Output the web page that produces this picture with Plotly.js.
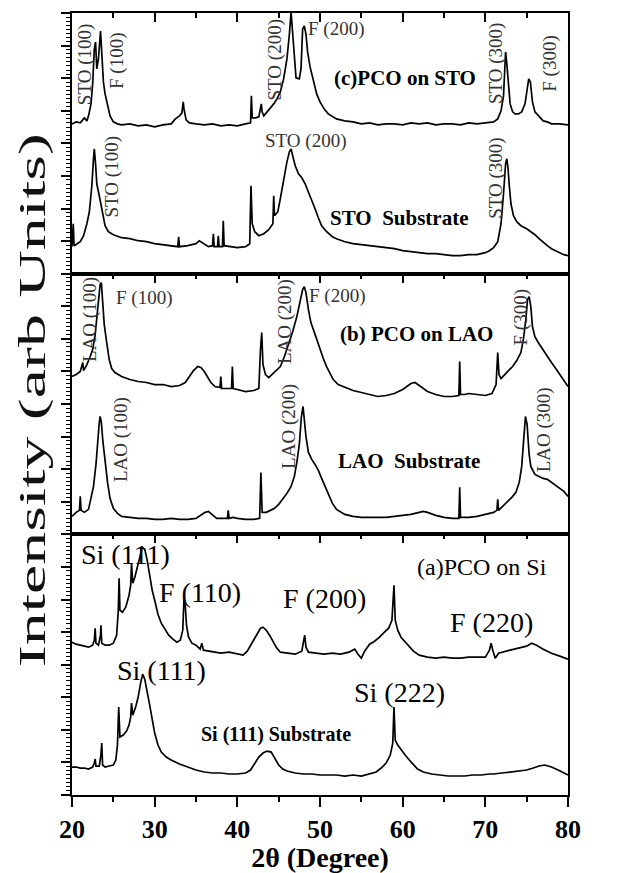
<!DOCTYPE html>
<html>
<head>
<meta charset="utf-8">
<script src="https://cdn.plot.ly/plotly-3.0.1.min.js"></script>
<style>html,body{margin:0;padding:0;background:#fff;}#chart{width:635px;height:873px;}</style>
</head>
<body>
<div id="chart"></div>
<script>
// ---------- Panel (c): PCO on STO / STO substrate ----------
var cFilmX = [20,20.5,21,21.5,21.8,22.0,22.3,22.5,22.7,22.85,23.0,23.2,23.45,23.6,23.8,24.0,24.3,24.6,25.0,25.5,26,27,28,29,30,31,32,32.5,33,33.3,33.45,33.55,33.8,34.2,35,36,37,38,39,40,41,41.6,41.7,41.8,42.2,42.6,42.9,43.0,43.2,43.6,44.0,44.4,44.8,45.2,45.6,46.0,46.3,46.5,46.7,46.9,47.1,47.5,47.7,47.9,48.1,48.3,48.5,48.8,49.2,49.6,50.0,50.5,51,52,53,54,55,56,57,58,59,60,61,62,63,64,65,66,67,68,69,70,70.5,71,71.5,71.9,72.2,72.45,72.6,72.8,73.0,73.3,73.6,74.0,74.4,74.8,75.0,75.25,75.45,75.7,76.0,76.5,77,77.5,78,79,80];
var cFilmY = [150,152,151,156,153,158,170,190,225,232,205,215,243,225,192,180,170,158,152,150,149,150,148,149,147,149,150,155,158,161,172,165,154,151,150,149,150,148,149,148,150,151,178,156,156,157,170,162,158,162,165,170,175,182,195,215,240,262,240,215,196,195,205,245,248,240,222,207,192,180,172,165,160,155,153,152,150,151,149,150,150,149,151,150,151,149,150,150,149,151,150,151,152,152,155,163,178,222,210,190,170,162,160,160,162,170,182,195,192,172,162,157,153,152,150,150,149];
var cSubX = [20,20.15,20.25,20.6,21.0,21.4,21.8,22.1,22.4,22.6,22.7,22.85,23.0,23.3,23.7,24.0,24.4,25,26,27,28,29,30,31,32,32.8,32.9,33.0,34,35,35.4,35.9,36.5,37.0,37.1,37.2,37.6,37.7,37.8,38.2,38.3,38.4,39,40,41,41.5,41.65,41.8,42.1,42.6,43.2,43.8,44.3,44.4,44.5,44.9,45.2,45.6,46.0,46.3,46.5,46.7,47.0,47.4,47.8,48.2,48.6,49.0,49.4,49.8,50.2,50.8,51.5,52,53,54,55,56,57,58,59,60,61,62,63,64,65,66,67,68,69,70,70.5,71,71.5,71.9,72.2,72.45,72.6,72.75,72.9,73.1,73.4,73.8,74.3,75,75.5,76,76.5,77,77.5,78,78.5,79,79.5,80];
var cSubY = [27,50,28,30,32,38,50,62,88,115,125,110,90,78,60,48,42,39,36,35,33,32,30,29,28,27,37,27,28,30,33,30,27,28,40,27,27,38,27,27,53,28,27,26,27,30,88,50,42,38,40,44,50,78,58,62,75,95,112,122,125,118,108,100,96,90,82,74,65,56,48,42,37,35,32,30,29,28,27,26,25,23,22,21,20,20,19,18,18,19,19,21,23,26,32,50,80,110,115,105,88,70,58,52,48,45,42,39,35,31,28,25,23,21,19,18];

// ---------- Panel (b): PCO on LAO / LAO substrate ----------
var bFilmX = [20,20.5,21.0,21.3,21.4,21.8,22.2,22.5,22.8,23.0,23.2,23.4,23.55,23.7,23.9,24.2,24.5,24.8,25.2,26,27,28,29,30,31,32,33,33.7,34.2,34.7,35.2,35.6,36.0,36.4,36.8,37.3,37.9,38.0,38.1,38.8,39.3,39.4,39.5,40,41,42,42.6,42.8,42.95,43.1,43.4,43.8,44.2,44.7,45.2,45.7,46.2,46.7,47.2,47.6,47.9,48.1,48.3,48.6,48.9,49.2,49.6,50.0,50.4,50.8,51.2,51.6,52.2,53,54,55,56,57,58,59,60,60.5,61,61.5,62,62.5,63,64,65,66,66.8,66.9,67.0,67.5,68,69,70,70.8,71.3,71.5,71.65,71.9,72.3,72.8,73.3,73.8,74.3,74.6,74.9,75.1,75.3,75.5,75.7,76.0,76.4,77.0,77.5,78.0,78.6,79.2,79.7,80];
var bFilmY = [158,160,163,172,164,170,178,185,200,215,235,250,252,230,210,192,175,166,162,158,155,153,152,150,150,148,149,152,158,164,168,167,163,158,152,148,147,158,146,146,146,168,146,145,143,144,146,185,202,170,160,157,160,164,168,178,190,203,218,232,245,248,242,225,212,205,195,185,176,168,161,155,150,147,144,142,140,138,139,141,145,148,151,152,149,146,143,140,138,138,139,173,140,140,141,140,139,141,150,182,160,156,160,164,168,174,182,195,215,235,238,228,208,198,192,184,178,172,165,158,152,148];
var bSubX = [20,20.5,20.9,21.0,21.1,21.5,22.0,22.3,22.6,22.9,23.1,23.3,23.4,23.55,23.75,24.0,24.3,24.6,25.0,25.5,26,27,28,29,30,31,32,33,34,35,35.6,36.1,36.5,37,37.5,38,38.8,38.9,39.0,39.5,40,41,42,42.7,42.85,43.0,43.5,44.0,44.5,45.0,45.5,46.0,46.5,46.9,47.2,47.5,47.75,47.95,48.1,48.3,48.6,49.0,49.4,49.8,50.2,50.6,51.0,51.5,52,53,54,55,56,57,58,59,60,61,62,62.5,63,64,65,66,66.8,66.9,67.0,68,69,70,71,71.4,71.5,71.6,72,72.6,73.2,73.7,74.1,74.4,74.65,74.85,75.05,75.3,75.5,76,76.5,77,77.5,78,78.5,79,79.5,80];
var bSubY = [18,22,24,38,24,22,25,35,48,70,95,112,118,112,92,72,52,36,26,21,18,17,16,16,15,15,16,15,15,16,19,22,23,19,16,16,16,24,16,17,16,15,15,16,62,22,22,24,26,30,35,41,48,58,72,90,118,128,115,98,82,75,70,64,56,48,40,31,25,20,18,17,17,17,17,18,19,20,22,23,22,19,17,16,16,47,17,17,18,20,22,24,35,24,27,32,37,42,52,68,95,118,110,80,68,60,58,56,55,52,49,46,43,38];

// ---------- Panel (a): PCO on Si / Si(111) substrate ----------
var aFilmX = [20,20.5,21.0,21.5,22.0,22.5,22.7,22.8,22.9,23.2,23.45,23.5,23.6,24.0,24.5,25.0,25.4,25.6,25.7,25.8,26.1,26.5,26.9,27.1,27.2,27.35,27.6,27.9,28.2,28.5,28.8,29.1,29.4,29.7,30.0,30.4,30.8,31.2,31.7,32.2,32.7,33.1,33.4,33.55,33.7,33.85,34.1,34.5,35.0,35.5,35.7,35.9,36.5,37,38,39,40,40.7,41.2,41.6,42.0,42.4,42.8,43.1,43.5,43.9,44.3,44.7,45.2,46,47,47.8,48.0,48.15,48.3,48.6,49.5,50.5,51.5,52.5,53.5,54.2,54.6,55.0,55.4,56.0,56.6,57.2,57.8,58.3,58.7,58.85,58.95,59.1,59.4,59.8,60.3,60.8,61.3,62,63,64,65,66,67,68,69,70,70.5,70.7,70.9,71.2,71.6,72.2,73,74,75,75.6,76.2,77,78,79,80];
var aFilmY = [153,151,150,149,148,150,155,167,152,150,160,170,152,150,150,152,160,185,217,185,183,188,200,210,232,212,218,228,238,248,246,235,220,205,195,181,172,166,160,156,153,155,165,197,190,170,158,152,150,146,152,145,144,143,142,143,141,140,144,150,156,162,167,168,165,160,154,148,143,142,141,144,152,160,148,143,142,141,142,141,143,146,141,137,144,151,154,158,163,167,175,200,210,175,165,158,153,148,144,140,138,137,138,137,137,138,138,138,145,152,145,137,142,143,145,147,149,152,150,146,142,139,136];
var aSubX = [20,20.5,21,21.5,22,22.5,22.7,22.8,22.9,23.3,23.5,23.6,23.7,24.0,24.5,25.0,25.3,25.5,25.65,25.8,26.2,26.6,26.9,27.1,27.2,27.35,27.7,28.0,28.3,28.55,28.8,29.1,29.4,29.7,30.0,30.4,30.8,31.4,32,33,34,35,36,37,38,39,40,41,41.6,42.1,42.6,43.1,43.6,44.1,44.6,45.0,45.5,46,47,48,49,50,51,52,53,54,55,56,56.8,57.4,58.0,58.5,58.8,58.95,59.1,59.4,59.8,60.3,60.8,61.3,61.8,62.5,63.5,64.5,65.5,66.5,67.5,68.5,69.5,70.5,71.0,72,73,74,75,75.8,76.5,77.2,78,78.8,79.5,80];
var aSubY = [28,28,27,27,26,28,32,36,29,29,40,52,30,28,29,30,35,50,88,58,60,64,70,78,92,80,88,98,112,121,116,104,90,76,62,50,43,38,35,31,28,25,23,22,22,21,21,22,25,31,38,42,44,43,36,30,26,24,22,21,21,20,20,20,19,20,19,21,23,27,32,40,52,88,55,50,45,40,35,30,26,23,21,20,19,19,19,20,20,21,21,22,23,24,25,27,29,30,28,25,22,20];

// ---------- Axis tick values ----------
var xTickVals = [20,30,40,50,60,70,80];
var xTickText = ['20','30','40','50','60','70','80'];

var SERIF = 'Liberation Serif, Times New Roman, serif';
function tr(x, y, xa, ya) {
  return {x: x, y: y, xaxis: xa, yaxis: ya, type: 'scatter', mode: 'lines',
          line: {color: '#000', width: 1.7}, hoverinfo: 'skip', showlegend: false};
}
var data = [
  tr(cFilmX, cFilmY, 'x3', 'y3'), tr(cSubX, cSubY, 'x3', 'y3'),
  tr(bFilmX, bFilmY, 'x2', 'y2'), tr(bSubX, bSubY, 'x2', 'y2'),
  tr(aFilmX, aFilmY, 'x', 'y'), tr(aSubX, aSubY, 'x', 'y'),
  {x: [], y: [], xaxis: 'x4', yaxis: 'y', type: 'scatter', mode: 'lines', showlegend: false}
];

var H = 261;
var yBase = {range: [0, H], showticklabels: false, showgrid: false, zeroline: false,
  ticks: 'outside', ticklen: 9, tickwidth: 2, tickcolor: '#000', tick0: 0, dtick: H / 8,
  minor: {ticks: 'outside', ticklen: 4, tickwidth: 1, tickcolor: '#000', dtick: H / 64},
  showline: true, linewidth: 2, linecolor: '#000', mirror: true, fixedrange: true};
function yax(dom) { var o = JSON.parse(JSON.stringify(yBase)); o.domain = dom; return o; }
function topX(anchor, overlay) {
  var o = {range: [20, 80], anchor: anchor, side: 'top', showticklabels: false, showgrid: false,
    zeroline: false, ticks: 'inside', ticklen: 9, tickwidth: 2, tickcolor: '#000',
    tickvals: xTickVals,
    minor: {ticks: 'inside', ticklen: 5, tickwidth: 2, tickcolor: '#000', dtick: 5, tick0: 20},
    showline: true, linewidth: 2, linecolor: '#000', mirror: true, fixedrange: true};
  if (overlay) o.overlaying = overlay;
  return o;
}

function lab(text, x, y, xr, yr, size, opts) {
  opts = opts || {};
  return {text: text, x: x, y: y, xref: xr, yref: yr, showarrow: false,
    xanchor: 'center', yanchor: 'middle', textangle: opts.rot ? -90 : 0,
    font: {family: SERIF, size: size, color: opts.color || '#1a1a1a', weight: opts.bold ? 'bold' : 'normal'}};
}
var R = {rot: true, color: '#333'};
var N = {color: '#333'};
var B = {bold: true, color: '#000'};
var annotations = [
  // panel c
  lab('STO (100)', 21.6, 209, 'x3', 'y3', 19, R),
  lab('F (100)', 25.45, 213, 'x3', 'y3', 19, R),
  lab('STO (200)', 44.5, 214, 'x3', 'y3', 19, R),
  lab('F (200)', 51.9, 245, 'x3', 'y3', 19, N),
  lab('(c)PCO on STO', 60.3, 196, 'x3', 'y3', 21, B),
  lab('STO (300)', 71.3, 210, 'x3', 'y3', 19, R),
  lab('F (300)', 77.8, 210, 'x3', 'y3', 19, R),
  lab('STO (200)', 48.2, 133, 'x3', 'y3', 19, N),
  lab('STO (100)', 24.8, 97, 'x3', 'y3', 19, R),
  lab('STO  Substrate', 59.5, 56, 'x3', 'y3', 21, B),
  lab('STO (300)', 71.3, 95, 'x3', 'y3', 19, R),
  // panel b
  lab('LAO (100)', 22.1, 215, 'x2', 'y2', 19, R),
  lab('F (100)', 28.7, 237, 'x2', 'y2', 19, N),
  lab('LAO (200)', 45.7, 213, 'x2', 'y2', 19, R),
  lab('F (200)', 52.1, 239, 'x2', 'y2', 19, N),
  lab('(b) PCO on LAO', 61.7, 201, 'x2', 'y2', 21, B),
  lab('F (300)', 74.3, 217, 'x2', 'y2', 19, R),
  lab('LAO (100)', 26.0, 95, 'x2', 'y2', 19, R),
  lab('LAO (200)', 46.3, 108, 'x2', 'y2', 19, R),
  lab('LAO  Substrate', 60.8, 73, 'x2', 'y2', 21, B),
  lab('LAO (300)', 77.2, 105, 'x2', 'y2', 19, R),
  // panel a
  lab('Si (111)', 26.5, 241, 'x', 'y', 28, {color: '#000'}),
  lab('F (110)', 35.5, 203, 'x', 'y', 28, {color: '#000'}),
  lab('F (200)', 50.6, 197, 'x', 'y', 28, {color: '#000'}),
  lab('(a)PCO on Si', 69.6, 228, 'x', 'y', 24, {color: '#000'}),
  lab('F (220)', 70.7, 173, 'x', 'y', 28, {color: '#000'}),
  lab('Si (111)', 30.8, 125, 'x', 'y', 28, {color: '#000'}),
  lab('Si (222)', 59.6, 103, 'x', 'y', 28, {color: '#000'}),
  lab('Si (111) Substrate', 44.7, 61, 'x', 'y', 20, B),
  // y-axis title
  {text: 'Intensity (arb Units)', x: -0.0786, y: 0.505, xref: 'paper', yref: 'paper',
   showarrow: false, textangle: -90, xanchor: 'center', yanchor: 'middle',
   font: {family: SERIF, size: 37, color: '#111'}}
];

var layout = {
  width: 635, height: 873,
  margin: {l: 72, r: 67, t: 13, b: 78},
  paper_bgcolor: '#fff', plot_bgcolor: '#fff',
  showlegend: false,
  xaxis: {range: [20, 80], anchor: 'y', side: 'bottom', showgrid: false, zeroline: false,
    ticks: 'outside', ticklen: 10, tickwidth: 2, tickcolor: '#000',
    tickvals: xTickVals, ticktext: xTickText,
    minor: {ticks: 'outside', ticklen: 5, tickwidth: 2, tickcolor: '#000', dtick: 5, tick0: 20},
    tickfont: {family: SERIF, size: 26, color: '#000', weight: 'bold'},
    showline: true, linewidth: 2, linecolor: '#000', mirror: true, fixedrange: true,
    title: {text: '2θ (Degree)', font: {family: SERIF, size: 28, color: '#000', weight: 'bold'}, standoff: 4}},
  xaxis2: topX('y2'),
  xaxis3: topX('y3'),
  xaxis4: topX('y', 'x'),
  yaxis: yax([0, 1 / 3]),
  yaxis2: yax([1 / 3, 2 / 3]),
  yaxis3: yax([2 / 3, 1]),
  annotations: annotations
};

Plotly.newPlot('chart', data, layout, {staticPlot: true}).then(function (gd) {
  // the original y-axis title is stretched along its length
  var groups = gd.querySelectorAll('g.annotation');
  for (var i = 0; i < groups.length; i++) {
    var el = groups[i];
    if (el.textContent === 'Intensity (arb Units)') {
      var wrap = document.createElementNS('http://www.w3.org/2000/svg', 'g');
      el.parentNode.insertBefore(wrap, el);
      wrap.appendChild(el);
      var bb = wrap.getBBox();
      var cx = bb.x + bb.width / 2, cy = bb.y + bb.height / 2, s = 1.78;
      wrap.setAttribute('transform', 'translate(' + cx + ',' + cy + ') scale(1,' + s + ') translate(' + (-cx) + ',' + (-cy) + ')');
    }
  }
});
</script>
</body>
</html>
